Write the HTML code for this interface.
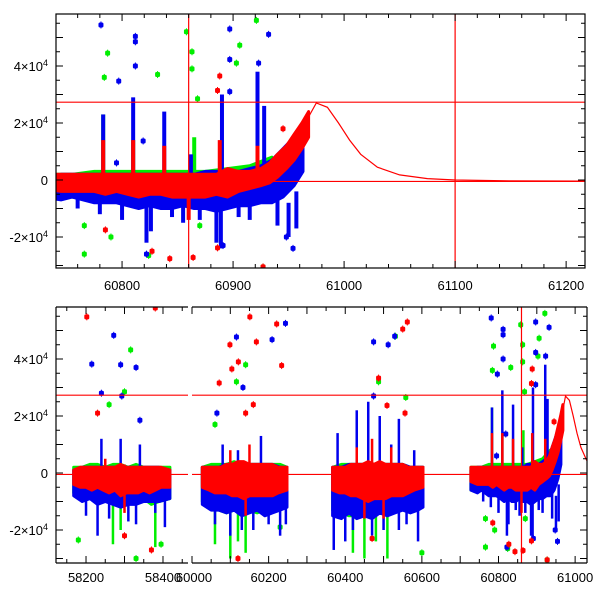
<!DOCTYPE html>
<html><head><meta charset="utf-8"><style>
body{margin:0;background:#fff}
svg{display:block;font-family:"Liberation Sans",sans-serif}
</style></head><body>
<svg id="c" width="600" height="600" xmlns="http://www.w3.org/2000/svg">
<defs>
<clipPath id="cpTop"><rect x="56" y="14" width="529" height="254"/></clipPath>
<clipPath id="cpS1"><rect x="56" y="307" width="132" height="256"/></clipPath>
<clipPath id="cpS2"><rect x="192" y="307" width="395" height="256"/></clipPath>
</defs>
</svg>
<script>
// ---- data (values in units of 1000) ----
const redBand=[[58168,-4,1],[58185,-5,2],[58200,-5,2],[58215,-6,2],[58230,-5,2],[58245,-6,2],[58260,-7,2],[58275,-6,2],[58290,-8,3],[58305,-7,2],[58320,-7,2],[58335,-7,2],[58350,-6,2],[58365,-7,2],[58380,-6,2],[58395,-5,2],[58418,-5,1],
[60027,-5,2],[60045,-6,2],[60060,-7,2],[60075,-7,2],[60090,-7,3],[60105,-8,3],[60120,-8,4],[60135,-9,4],[60150,-8,3],[60165,-8,3],[60180,-8,3],[60195,-8,3],[60210,-8,3],[60225,-7,2],[60248,-6,2],
[60367,-6,2],[60385,-7,2],[60400,-7,2],[60415,-8,3],[60430,-8,3],[60445,-9,3],[60460,-10,4],[60475,-9,3],[60490,-9,4],[60505,-9,3],[60520,-8,3],[60535,-8,3],[60550,-8,3],[60565,-7,2],[60580,-6,2],[60603,-5,2],
[60728,-3,2],[60745,-4,2],[60755,-4,2],[60765,-4,2],[60775,-4,2],[60785,-5,2],[60795,-4,2],[60805,-5,2],[60815,-6,2],[60825,-5,2],[60835,-5,2],[60845,-6,2],[60855,-6,2],[60865,-6,2],[60875,-6,2],[60885,-5,2],[60895,-6,4],[60905,-4,3],[60915,-3,3],[60925,-2,4],[60933,-1,6],[60940,1,9],[60948,4,12],[60955,7,16],[60962,11,20],[60968,15,24]];
const blueBand=[[58168,-8,1],[58190,-10,2],[58210,-9,2],[58230,-11,2],[58250,-10,2],[58270,-11,2],[58290,-12,2],[58310,-11,2],[58330,-11,2],[58350,-10,2],[58370,-10,2],[58390,-10,2],[58418,-9,1],
[60027,-11,2],[60050,-13,2],[60070,-13,2],[60090,-14,3],[60110,-13,3],[60130,-15,3],[60150,-14,3],[60170,-13,3],[60190,-15,3],[60210,-14,3],[60230,-13,2],[60248,-12,2],
[60367,-15,2],[60390,-16,2],[60410,-14,3],[60430,-16,3],[60450,-15,3],[60470,-16,3],[60490,-14,3],[60510,-15,3],[60530,-14,3],[60550,-13,3],[60570,-14,2],[60590,-13,2],[60603,-12,2],
[60728,-6,1],[60745,-7,2],[60755,-6,2],[60765,-7,2],[60775,-8,2],[60785,-8,2],[60795,-8,2],[60805,-9,2],[60815,-10,2],[60825,-9,2],[60835,-10,2],[60845,-10,2],[60855,-9,2],[60865,-10,2],[60875,-10,3],[60885,-11,3],[60895,-10,3],[60905,-9,3],[60915,-9,4],[60925,-8,5],[60935,-8,7],[60945,-6,11],[60955,-2,15],[60963,3,19]];
const greenBand=[[58168,-7,2],[58190,-9,2],[58210,-8,3],[58230,-10,3],[58250,-9,2],[58270,-11,3],[58290,-10,3],[58310,-11,2],[58330,-10,3],[58350,-9,2],[58370,-11,2],[58390,-10,2],[58418,-9,2],
[60027,-10,2],[60050,-12,3],[60070,-13,3],[60090,-14,3],[60110,-13,4],[60130,-14,3],[60150,-13,3],[60170,-14,3],[60190,-13,3],[60210,-12,3],[60230,-12,3],[60248,-10,2],
[60367,-13,2],[60390,-14,3],[60410,-15,3],[60430,-15,3],[60450,-14,3],[60470,-15,3],[60490,-13,3],[60510,-14,3],[60530,-13,3],[60550,-12,3],[60570,-12,2],[60603,-11,2],
[60728,-6,2],[60755,-6,2],[60775,-7,3],[60795,-7,3],[60815,-8,3],[60835,-8,3],[60855,-8,3],[60875,-9,3],[60895,-8,4],[60915,-7,5],[60935,-6,8]];
const blueSpikes=[[60783,0,23],[60810,-3,29],[60838,0,24],[60862,0,9],[60890,0,30],[60922,0,38],[60928,0,26],[60780,-12,0],[60822,-22,-8],[60826,-18,-5],[60845,-13,0],[60885,-22,-5],[60889,-24,-8],[60950,-20,-8],[60957,-17,-4],[60800,-14,-4],[60870,-14,-4],[60905,-13,-4],[60940,-16,-4],[60760,-10,-3],[60855,-15,-5],[60915,-14,-4],
[58240,0,12],[58290,0,12],[58340,0,10],[58200,-15,-5],[58380,-14,-5],[58260,-16,-5],[58310,-17,-6],[58405,-19,-6],[60080,0,10],[60180,0,13],[60120,0,8],[60380,0,14],[60430,0,22],[60460,0,25],[60490,0,20],[60540,0,19],[60520,0,10],[60580,0,8],
[58230,-22,-8],[58330,-18,-8],[60100,-22,-8],[60160,-20,-8],[60230,-22,-8],[60200,-18,-8],[60060,-18,-8],[60130,-20,-8],[60245,-18,-8],[60370,-27,-10],[60400,-24,-10],[60470,-22,-10],[60590,-24,-8],[60540,-20,-8],[60420,-20,-8],[60500,-20,-8],[60560,-18,-8]];
const redSpikes=[[60783,0,14],[60810,0,14],[60838,0,12],[60888,-5,14],[60922,0,12],[60150,0,10],[60100,0,8],[60470,0,12],[60430,0,9],[60520,0,9],[58300,-14,3],[58250,0,5],[60500,-16,-6],[60140,-15,-6],[60450,-16,-6],[60860,-14,-4]];
const greenSpikes=[[60783,0,23],[60810,0,14],[60922,0,27],[60865,0,15],[58270,-25,-8],[58380,-26,-8],[58290,-20,-8],[60060,-25,-10],[60100,-30,-10],[60140,-28,-10],[60120,-24,-10],[60420,-28,-12],[60450,-30,-12],[60510,-30,-12],[60480,-24,-10]];
const bluePts=[[60781,54.4],[60812,50.4],[60812,48.5],[60812,40],[60797,34.7],[60897,53],[60897,42.3],[60932,51.1],[60923,41],[60897,31],[60819,13.7],[60795,6],[60822,-26],[60891,-23],[60954,-24],[60948,-20],
[58215,38.2],[58272,48.3],[58290,38],[58330,37],[60116,47.7],[60133,30],[60209,46.8],[60244,52.5],[60474,46],[60529,48],[60512,45],[58240,28],[58293,27],[58340,18.5],[60065,21],[60474,27]];
const redPts=[[60888,36.5],[60886,31.4],[60945,18],[60843,-27.6],[60827,-25],[60785,-17.5],[60886,-23.8],[60927,-30.5],
[58202,54.8],[58380,57.9],[60071,31.6],[60104,36.5],[60151,54.8],[60221,52.3],[60168,46],[60099,45],[60121,39],[60234,37.7],[60562,53],[60550,50.5],[60487,33.3],[60509,23.7],[60556,21],[60864,-27.2],[58230,21],[58300,-22],[58370,-27],[60140,21],[60160,24],[60470,-23],[60120,-30]];
const greenPts=[[60858,52],[60921,56],[60787,44.5],[60832,37],[60903,41],[60906,47.3],[60766,-16],[60766,-26],[60790,-20],[60824,-26.5],[60927,-30.5],[60863,45],[60863,39],[60868,28.5],[60784,36],[60870,-16],
[58316,43.2],[58300,28.5],[58260,24],[58180,-23.5],[60116,32],[60487,32],[60531,48],[60558,26.5],[60060,17],[60140,38],[58330,-30],[58395,-25],[60230,-19],[60600,-28]];
const modelT=[60900,60930,60945,60955,60965,60975,60985,60995,61005,61015,61030,61050,61075,61100,61150,61220];
const modelV=[0,3,7,12,20,27,25.5,20,14,9,4.5,1.8,0.5,0,-0.3,-0.4];
const hLines=[27.3,-0.5];
const vLines=[60860,61100];
const topTicksX=[60800,60900,61000,61100,61200];
const botTicksX=[[58200,58400],[60000,60200,60400,60600,60800,61000]];
const yTickVals=[-2,0,2,4];

const NS="http://www.w3.org/2000/svg",svg=document.getElementById('c');
function mk(tag,at,parent){const e=document.createElementNS(NS,tag);for(const k in at)e.setAttribute(k,at[k]);(parent||svg).appendChild(e);return e;}
function lin(d0,d1,r0,r1){return v=>r0+(v-d0)/(d1-d0)*(r1-r0);}
const COL={r:'#ff0000',g:'#00ee00',b:'#0000ee'};

function bandPaths(g,band,c,xs,ys){
  let segs=[],cur=[];
  band.forEach((d,i)=>{if(i&&d[0]-band[i-1][0]>40){segs.push(cur);cur=[];}cur.push(d);});
  segs.push(cur);
  segs.forEach(s=>{
    let d='M'+s.map(p=>xs(p[0]).toFixed(1)+','+ys(p[2]*1000).toFixed(1)).join('L');
    d+='L'+s.slice().reverse().map(p=>xs(p[0]).toFixed(1)+','+ys(p[1]*1000).toFixed(1)).join('L')+'Z';
    const p=mk('path',{d:d,fill:c,stroke:c,'stroke-width':3,'stroke-linejoin':'round'},g);
    
    
  });
}
function spikes(g,sp,c,xs,ys,w){
  sp.forEach(d=>{const x=xs(d[0]),y1=ys(d[2]*1000),y2=ys(d[1]*1000);
    const r=mk('rect',{x:x-w/2,y:y1,width:w,height:y2-y1,fill:c},g);
    
    });
}
function points(g,pts,c,xs,ys){
  pts.forEach(d=>{const x=xs(d[0]),y=ys(d[1]*1000);
    mk('line',{x1:x,x2:x,y1:y-3.5,y2:y+3.5,stroke:c,'stroke-width':1},g);
    const p=mk('rect',{x:x-2.5,y:y-2.5,width:5,height:5,rx:1.5,fill:c},g);
    
    });
}
function drawSeries(g,xs,ys,w){
  bandPaths(g,greenBand,COL.g,xs,ys);
  spikes(g,greenSpikes,COL.g,xs,ys,w);
  points(g,greenPts,COL.g,xs,ys);
  bandPaths(g,blueBand,COL.b,xs,ys);
  spikes(g,blueSpikes,COL.b,xs,ys,w);
  points(g,bluePts,COL.b,xs,ys);
  bandPaths(g,redBand,COL.r,xs,ys);
  spikes(g,redSpikes,COL.r,xs,ys,w);
  points(g,redPts,COL.r,xs,ys);
  let dstr='';modelT.forEach((t,i)=>{dstr+=(i?'L':'M')+xs(t).toFixed(1)+','+ys(modelV[i]*1000).toFixed(1);});
  const m=mk('path',{d:dstr,fill:'none',stroke:COL.r,'stroke-width':1.2},g);
  
  
}
function text(x,y,s,anchor,name){const t=mk('text',{x:x,y:y,'font-size':13,'text-anchor':anchor,fill:'#000'});t.textContent=s;return t;}
function yLabel(x,y,v){
  const t=mk('text',{x:x,y:y+5,'font-size':13,'text-anchor':'end',fill:'#000'});
  
  if(v===0){t.textContent='0';return;}
  t.textContent=(v<0?'-':'')+Math.abs(v)+'×10';
  const s=mk('tspan',{'font-size':9,dy:-5},t);s.textContent='4';
}
function yAxis(ys,x0,x1,top,bot){
  for(let v=-30000;v<=60000;v+=5000){const y=ys(v);if(y<top||y>bot)continue;const L=(v%10000===0)?7:4;
    mk('line',{x1:x0,x2:x0+L,y1:y,y2:y,stroke:'#000'});mk('line',{x1:x1,x2:x1-L,y1:y,y2:y,stroke:'#000'});}
  yTickVals.forEach(v=>yLabel(48,ys(v*1e4),v));
}
function xTicks(xs,t0,t1,minor,major,x0,x1,top,bot){
  for(let t=Math.ceil(t0/minor)*minor;t<=t1;t+=minor){const x=xs(t);if(x<x0||x>x1)continue;const L=(t%major===0)?7:4;
    mk('line',{x1:x,x2:x,y1:bot,y2:bot-L,stroke:'#000'});mk('line',{x1:x,x2:x,y1:top,y2:top+L,stroke:'#000'});}
}

// ---- top panel ----
const tx=lin(60740.5,61217,56,585), ty=lin(0,20000,180,123);
const gTop=mk('g',{'clip-path':'url(#cpTop)'});
drawSeries(gTop,tx,ty,4);
hLines.forEach(v=>mk('line',{x1:56,x2:585,y1:ty(v*1000),y2:ty(v*1000),stroke:COL.r,'stroke-width':1.2},gTop));
vLines.forEach(t=>mk('line',{x1:tx(t),x2:tx(t),y1:14,y2:268,stroke:COL.r,'stroke-width':1.2},gTop));
const f1=mk('rect',{x:56,y:14,width:529,height:254,fill:'none',stroke:'#000','stroke-width':1.2});
xTicks(tx,60740,61217,20,100,56,585,14,268);
yAxis(ty,56,585,14,268);
topTicksX.forEach(t=>text(tx(t),290,String(t),'middle','x-tick-label'));

// ---- bottom panel (broken axis) ----
const by=lin(0,20000,473,416);
const bx1=lin(58122,58465,56,188), bx2=lin(60000,61031,192,587);
const g1=mk('g',{'clip-path':'url(#cpS1)'});
const g2=mk('g',{'clip-path':'url(#cpS2)'});
drawSeries(g1,bx1,by,2.5);drawSeries(g2,bx2,by,2.5);
hLines.forEach(v=>{mk('line',{x1:56,x2:188,y1:by(v*1000),y2:by(v*1000),stroke:COL.r,'stroke-width':1.2},g1);mk('line',{x1:192,x2:587,y1:by(v*1000),y2:by(v*1000),stroke:COL.r,'stroke-width':1.2},g2);});
mk('line',{x1:bx2(60860),x2:bx2(60860),y1:307,y2:563,stroke:COL.r,'stroke-width':1.2},g2);
[[56,188],[192,587]].forEach(([a,b])=>{mk('line',{x1:a,x2:b,y1:307,y2:307,stroke:'#000','stroke-width':1.2});mk('line',{x1:a,x2:b,y1:563,y2:563,stroke:'#000','stroke-width':1.2});});
mk('line',{x1:56,x2:56,y1:307,y2:563,stroke:'#000','stroke-width':1.2});
mk('line',{x1:587,x2:587,y1:307,y2:563,stroke:'#000','stroke-width':1.2});
xTicks(bx1,58122,58465,50,100,56,188,307,563);
xTicks(bx2,60000,61031,50,100,192,587,307,563);
yAxis(by,56,587,307,563);
botTicksX[0].forEach(t=>text(bx1(t),582,String(t),'middle','x-tick-label'));
botTicksX[1].forEach(t=>text(bx2(t)+(t===60000?2:0),582,String(t),'middle','x-tick-label'));
</script>
</body></html>
